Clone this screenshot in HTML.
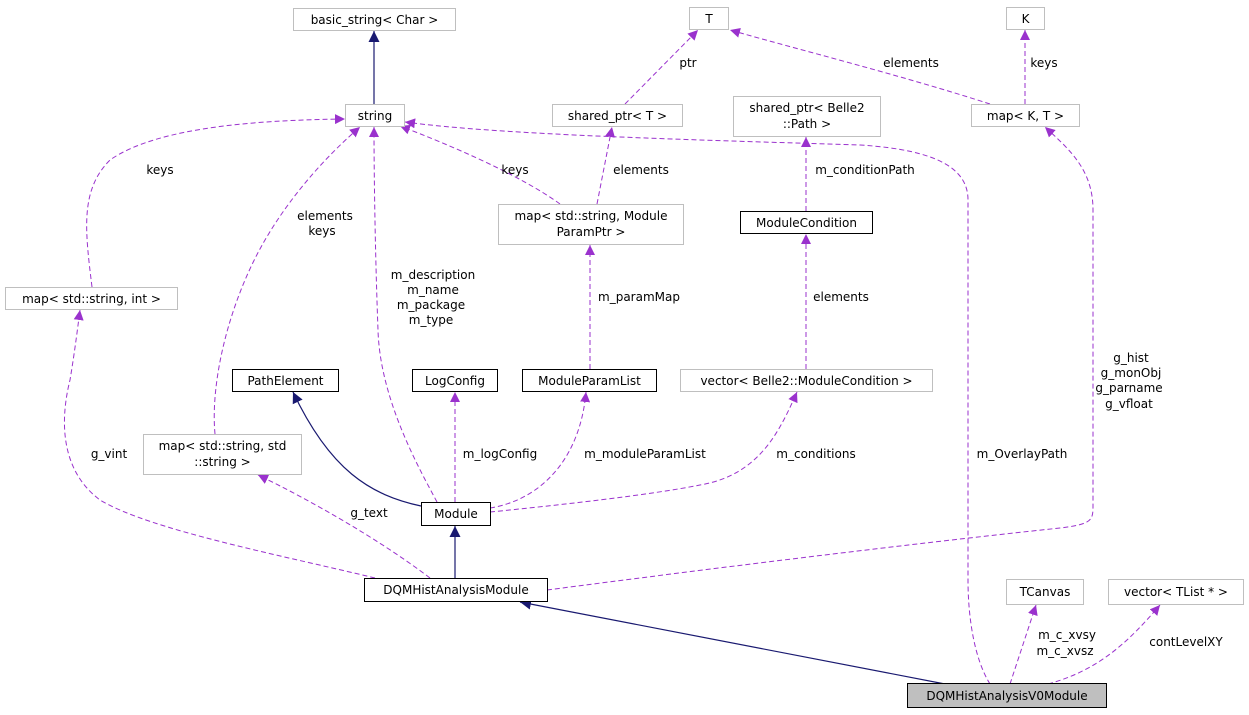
<!DOCTYPE html>
<html><head><meta charset="utf-8"><style>
html,body{margin:0;padding:0;background:#fff;}
svg{display:block;}
text{font-family:"DejaVu Sans","Liberation Sans",sans-serif;font-size:12px;fill:#000;}
.g{fill:#fff;stroke:#bfbfbf;stroke-width:1;}
.b{fill:#fff;stroke:#000;stroke-width:1;}
.d{fill:none;stroke:#9a32cd;stroke-width:1;stroke-dasharray:5,3;}
.s{fill:none;stroke:#191970;stroke-width:1.2;}
</style></head><body>
<svg width="1249" height="715" viewBox="0 0 1249 715" xmlns="http://www.w3.org/2000/svg">
<defs>
<marker id="ap" viewBox="0 0 10 10" refX="10" refY="5" markerWidth="10" markerHeight="10" markerUnits="userSpaceOnUse" orient="auto"><path d="M0,0 L10,5 L0,10 z" fill="#9a32cd"/></marker>
<marker id="an" viewBox="0 0 10 10" refX="10" refY="5" markerWidth="11" markerHeight="11" markerUnits="userSpaceOnUse" orient="auto"><path d="M0,0 L10,5 L0,10 z" fill="#191970"/></marker>
</defs>

<!-- edges -->
<path class="s" d="M374,104 L374,31" marker-end="url(#an)"/>
<path class="d" d="M625,104 L698,30" marker-end="url(#ap)"/>
<path class="d" d="M990,104 C900,75 800,50 730,30" marker-end="url(#ap)"/>
<path class="d" d="M1025,104 L1025,30" marker-end="url(#ap)"/>
<path class="d" d="M92,287 C85,230 80,190 110,160 C160,125 270,120 345,119" marker-end="url(#ap)"/>
<path class="d" d="M215,434 C210,380 230,300 265,240 C300,180 345,140 360,127" marker-end="url(#ap)"/>
<path class="d" d="M437,502 C420,470 380,400 378,330 C375,250 374,170 374,127" marker-end="url(#ap)"/>
<path class="d" d="M560,204 C520,175 450,145 400,126" marker-end="url(#ap)"/>
<path class="d" d="M597,204 L612,127" marker-end="url(#ap)"/>
<path class="d" d="M806,211 L806,137" marker-end="url(#ap)"/>
<path class="d" d="M806,369 L806,234" marker-end="url(#ap)"/>
<path class="d" d="M590,369 L590,245" marker-end="url(#ap)"/>
<path class="s" d="M421,506 C370,495 330,470 293,392" marker-end="url(#an)"/>
<path class="d" d="M455,502 L455,392" marker-end="url(#ap)"/>
<path class="d" d="M490,508 C540,500 580,460 586,392" marker-end="url(#ap)"/>
<path class="d" d="M490,512 C560,505 650,495 700,485 C760,475 780,430 797,392" marker-end="url(#ap)"/>
<path class="s" d="M455,578 L455,526" marker-end="url(#an)"/>
<path class="d" d="M430,578 C380,540 310,500 258,475" marker-end="url(#ap)"/>
<path class="d" d="M375,578 C280,555 150,530 100,500 C60,470 60,420 70,380 C75,350 78,325 80,310" marker-end="url(#ap)"/>
<path class="d" d="M547,590 C700,570 900,545 1060,528 C1093,524 1093,520 1093,505 L1093,210 C1093,170 1070,150 1045,127" marker-end="url(#ap)"/>
<path class="s" d="M945,684 L520,602" marker-end="url(#an)"/>
<path class="d" d="M990,684 C975,660 968,620 968,580 L968,200 C968,170 940,150 860,145 C700,140 500,135 405,122" marker-end="url(#ap)"/>
<path class="d" d="M1010,684 L1036,605" marker-end="url(#ap)"/>
<path class="d" d="M1048,684 C1100,670 1130,640 1160,605" marker-end="url(#ap)"/>

<!-- nodes -->
<rect class="g" x="293.5" y="8.5" width="162" height="22"/><text x="374.5" y="24" text-anchor="middle">basic_string&lt; Char &gt;</text>
<rect class="g" x="345.5" y="104.5" width="59" height="22"/><text x="375" y="120" text-anchor="middle">string</text>
<rect class="g" x="689.5" y="7.5" width="39" height="22"/><text x="709" y="23" text-anchor="middle">T</text>
<rect class="g" x="1006.5" y="7.5" width="38" height="22"/><text x="1025.5" y="23" text-anchor="middle">K</text>
<rect class="g" x="552.5" y="104.5" width="130" height="22"/><text x="617.5" y="120" text-anchor="middle">shared_ptr&lt; T &gt;</text>
<rect class="g" x="733.5" y="96.5" width="147" height="40"/><text x="807" y="112" text-anchor="middle">shared_ptr&lt; Belle2</text><text x="807" y="128" text-anchor="middle">::Path &gt;</text>
<rect class="g" x="971.5" y="104.5" width="108" height="22"/><text x="1025.5" y="120" text-anchor="middle">map&lt; K, T &gt;</text>
<rect class="g" x="498.5" y="204.5" width="185" height="40"/><text x="591" y="220" text-anchor="middle">map&lt; std::string, Module</text><text x="591" y="236" text-anchor="middle">ParamPtr &gt;</text>
<rect class="b" x="740.5" y="211.5" width="132" height="22"/><text x="806.5" y="227" text-anchor="middle">ModuleCondition</text>
<rect class="g" x="5.5" y="287.5" width="172" height="22"/><text x="91.5" y="303" text-anchor="middle">map&lt; std::string, int &gt;</text>
<rect class="b" x="232.5" y="369.5" width="106" height="22"/><text x="285.5" y="385" text-anchor="middle">PathElement</text>
<rect class="b" x="412.5" y="369.5" width="85" height="22"/><text x="455" y="385" text-anchor="middle">LogConfig</text>
<rect class="b" x="522.5" y="369.5" width="134" height="22"/><text x="589.5" y="385" text-anchor="middle">ModuleParamList</text>
<rect class="g" x="680.5" y="369.5" width="252" height="22"/><text x="806.5" y="385" text-anchor="middle">vector&lt; Belle2::ModuleCondition &gt;</text>
<rect class="g" x="143.5" y="434.5" width="158" height="40"/><text x="222.5" y="450" text-anchor="middle">map&lt; std::string, std</text><text x="222.5" y="466" text-anchor="middle">::string &gt;</text>
<rect class="b" x="421.5" y="502.5" width="69" height="23"/><text x="456" y="518" text-anchor="middle">Module</text>
<rect class="b" x="364.5" y="578.5" width="183" height="23"/><text x="456" y="594" text-anchor="middle">DQMHistAnalysisModule</text>
<rect class="g" x="1006.5" y="579.5" width="77" height="25"/><text x="1045" y="596" text-anchor="middle">TCanvas</text>
<rect class="g" x="1108.5" y="579.5" width="135" height="25"/><text x="1176" y="596" text-anchor="middle">vector&lt; TList * &gt;</text>
<rect x="907.5" y="683.5" width="199" height="24" fill="#bfbfbf" stroke="#000"/><text x="1007" y="700" text-anchor="middle">DQMHistAnalysisV0Module</text>

<!-- labels -->
<text x="688" y="67" text-anchor="middle">ptr</text>
<text x="911" y="67" text-anchor="middle">elements</text>
<text x="1044" y="67" text-anchor="middle">keys</text>
<text x="160" y="174" text-anchor="middle">keys</text>
<text x="515" y="174" text-anchor="middle">keys</text>
<text x="641" y="174" text-anchor="middle">elements</text>
<text x="865" y="174" text-anchor="middle">m_conditionPath</text>
<text x="325" y="220" text-anchor="middle">elements</text>
<text x="322" y="235" text-anchor="middle">keys</text>
<text x="433" y="279" text-anchor="middle">m_description</text>
<text x="433" y="294" text-anchor="middle">m_name</text>
<text x="431" y="309" text-anchor="middle">m_package</text>
<text x="431" y="324" text-anchor="middle">m_type</text>
<text x="639" y="301" text-anchor="middle">m_paramMap</text>
<text x="841" y="301" text-anchor="middle">elements</text>
<text x="1131" y="362" text-anchor="middle">g_hist</text>
<text x="1131" y="377" text-anchor="middle">g_monObj</text>
<text x="1129" y="392" text-anchor="middle">g_parname</text>
<text x="1129" y="408" text-anchor="middle">g_vfloat</text>
<text x="109" y="458" text-anchor="middle">g_vint</text>
<text x="500" y="458" text-anchor="middle">m_logConfig</text>
<text x="645" y="458" text-anchor="middle">m_moduleParamList</text>
<text x="816" y="458" text-anchor="middle">m_conditions</text>
<text x="1022" y="458" text-anchor="middle">m_OverlayPath</text>
<text x="369" y="517" text-anchor="middle">g_text</text>
<text x="1067" y="639" text-anchor="middle">m_c_xvsy</text>
<text x="1065" y="655" text-anchor="middle">m_c_xvsz</text>
<text x="1186" y="646" text-anchor="middle">contLevelXY</text>
</svg>
</body></html>
